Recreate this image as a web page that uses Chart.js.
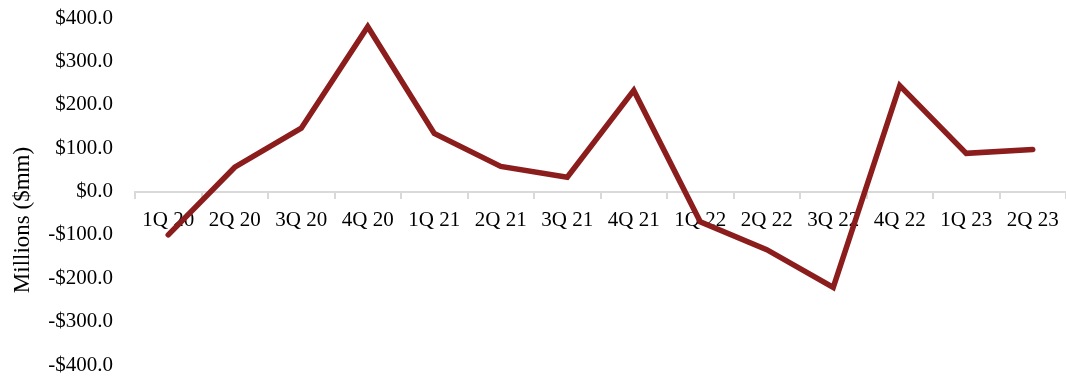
<!DOCTYPE html>
<html>
<head>
<meta charset="utf-8">
<title>Quarterly results</title>
<script src="https://cdn.jsdelivr.net/npm/chart.js@4/dist/chart.umd.min.js"></script>
<style>
  body { margin: 0; background: #fff; }
  #wrap { width: 1066px; height: 378px; }
</style>
</head>
<body>
<div id="wrap"><canvas id="chart" width="1066" height="378"></canvas></div>
<script>
const quarters = ['1Q 20', '2Q 20', '3Q 20', '4Q 20', '1Q 21', '2Q 21', '3Q 21',
    '4Q 21', '1Q 22', '2Q 22', '3Q 22', '4Q 22', '1Q 23', '2Q 23'];
const millions = [-100, 56, 146, 380, 134, 58, 33, 233, -70, -134, -221, 244, 88, 97];
const axisTitle = 'Millions ($mm)';

const serif = 'Liberation Serif';
const lineColor = '#8c1d1d';

function money(v) {
    const s = '$' + Math.abs(v).toFixed(1);
    return v < 0 ? '-' + s : s;
}

// rotated y title, sits a bit lower than the axis middle
const sideTitle = {
    id: 'sideTitle',
    afterDraw(chart) {
        const ctx = chart.ctx;
        ctx.save();
        ctx.translate(23, 220);
        ctx.rotate(-Math.PI / 2);
        ctx.font = '23px "' + serif + '"';
        ctx.fillStyle = '#000';
        ctx.textAlign = 'center';
        ctx.textBaseline = 'middle';
        ctx.fillText(axisTitle, 0, 0);
        ctx.restore();
    }
};

// keep the plot box fixed, labels are allowed to hang over the edges
function noPadding(scale) {
    scale.paddingTop = 0;
    scale.paddingBottom = 0;
    scale.paddingLeft = 0;
    scale.paddingRight = 0;
}

new Chart(document.getElementById('chart'), {
    type: 'line',
    data: {
        labels: quarters,
        datasets: [{
            data: millions,
            borderColor: lineColor,
            borderWidth: 5.5,
            pointRadius: 0,
            tension: 0,
            borderJoinStyle: 'miter',
            borderCapStyle: 'round'
        }]
    },
    options: {
        responsive: false,
        animation: false,
        layout: { padding: { top: 18, bottom: 13, left: 0, right: 0 } },
        plugins: {
            legend: { display: false },
            tooltip: { enabled: false }
        },
        scales: {
            x: {
                type: 'category',
                position: { y: 0 },
                offset: true,
                grid: {
                    offset: true,
                    drawOnChartArea: false,
                    drawTicks: true,
                    tickLength: 6,
                    color: '#d9d9d9',
                    lineWidth: 2
                },
                border: { display: true, color: '#d9d9d9', width: 2 },
                afterFit: noPadding,
                ticks: {
                    color: '#000',
                    padding: 10,
                    maxRotation: 0,
                    autoSkip: false,
                    font: { family: serif, size: 21 }
                }
            },
            y: {
                min: -400,
                max: 400,
                grid: { display: false, drawTicks: false },
                border: { display: false },
                afterFit(scale) {
                    scale.width = 135;
                    noPadding(scale);
                },
                ticks: {
                    stepSize: 100,
                    padding: 22,
                    color: '#000',
                    font: { family: serif, size: 21 },
                    callback: (v) => money(v)
                }
            }
        }
    },
    plugins: [sideTitle]
});
</script>
</body>
</html>
